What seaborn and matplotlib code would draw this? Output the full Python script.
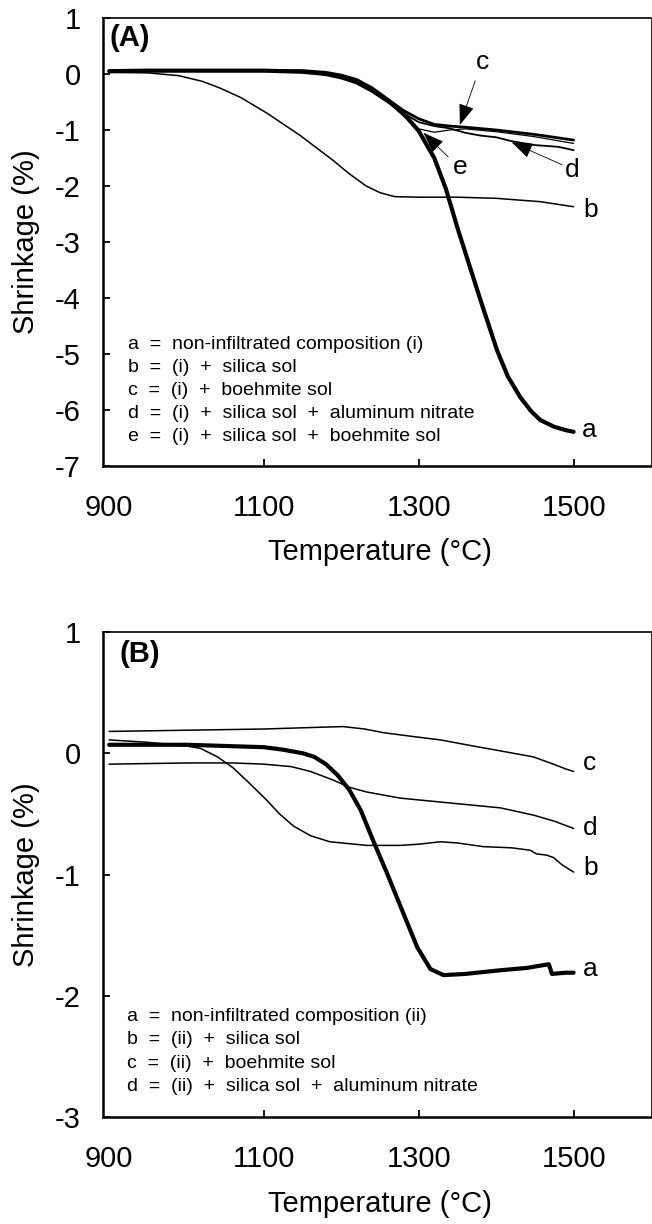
import matplotlib
matplotlib.use("Agg")
import matplotlib.pyplot as plt
import seaborn as sns
import pandas as pd

# ---------------- data ----------------
# Panel A
A_a_T = [900, 950, 1000, 1050, 1100, 1150, 1180, 1200, 1220, 1240, 1264, 1280, 1300, 1320, 1335, 1350,
         1365, 1380, 1401, 1415, 1431, 1445, 1457, 1475, 1490, 1500]
A_a_v = [0.05, 0.06, 0.06, 0.06, 0.06, 0.04, 0.0, -0.06, -0.15, -0.3, -0.52, -0.7, -1.02, -1.5, -2.05, -2.75,
         -3.4, -4.05, -4.93, -5.4, -5.77, -6.02, -6.18, -6.3, -6.36, -6.39]

A_b_T = [900, 950, 990, 1020, 1043, 1070, 1104, 1147, 1189, 1210, 1232, 1250, 1269, 1300, 1350, 1400, 1457, 1500]
A_b_v = [0.03, 0.02, -0.03, -0.13, -0.25, -0.42, -0.7, -1.1, -1.54, -1.78, -2.0, -2.12, -2.19, -2.2, -2.2, -2.22,
         -2.28, -2.37]

A_c_T = [900, 1000, 1100, 1150, 1180, 1200, 1220, 1240, 1260, 1280, 1300, 1320, 1340, 1360, 1400, 1450, 1500]
A_c_v = [0.06, 0.06, 0.06, 0.06, 0.03, -0.02, -0.1, -0.25, -0.45, -0.65, -0.8, -0.9, -0.93, -0.95, -1.0, -1.08,
         -1.18]

A_d_T = [900, 1000, 1100, 1150, 1180, 1200, 1220, 1240, 1260, 1280, 1300, 1320, 1340, 1360, 1380, 1400, 1420,
         1450, 1480, 1500]
A_d_v = [0.05, 0.05, 0.05, 0.05, 0.02, -0.03, -0.11, -0.27, -0.48, -0.7, -0.86, -0.93, -0.97, -1.05, -1.1, -1.13,
         -1.2, -1.27, -1.3, -1.36]

A_e_T = [900, 1000, 1100, 1150, 1180, 1200, 1220, 1240, 1260, 1280, 1300, 1320, 1340, 1360, 1400, 1450, 1500]
A_e_v = [0.05, 0.05, 0.05, 0.05, 0.02, -0.03, -0.12, -0.28, -0.5, -0.75, -0.98, -1.04, -1.0, -0.98, -1.03, -1.12,
         -1.24]

# Panel B
B_a_T = [900, 950, 1000, 1050, 1100, 1124, 1150, 1165, 1180, 1195, 1210, 1225, 1241, 1259, 1280, 1298, 1315,
         1332, 1360, 1405, 1440, 1468, 1472, 1490, 1500]
B_a_v = [0.07, 0.07, 0.07, 0.06, 0.05, 0.03, 0.0, -0.03, -0.09, -0.18, -0.3, -0.47, -0.72, -0.99, -1.32, -1.6,
         -1.78, -1.83, -1.82, -1.79, -1.77, -1.74, -1.82, -1.81, -1.81]

B_b_T = [900, 950, 1000, 1018, 1040, 1060, 1080, 1104, 1120, 1138, 1160, 1185, 1233, 1276, 1300, 1328, 1350,
         1383, 1420, 1444, 1452, 1465, 1474, 1485, 1500]
B_b_v = [0.11, 0.09, 0.06, 0.04, -0.03, -0.12, -0.24, -0.39, -0.5, -0.6, -0.68, -0.73, -0.76, -0.76, -0.75, -0.73,
         -0.74, -0.77, -0.78, -0.8, -0.83, -0.84, -0.86, -0.92, -0.98]

B_c_T = [900, 1000, 1100, 1150, 1202, 1230, 1254, 1290, 1328, 1370, 1405, 1448, 1474, 1490, 1500]
B_c_v = [0.18, 0.19, 0.2, 0.21, 0.22, 0.2, 0.17, 0.14, 0.11, 0.06, 0.02, -0.03, -0.09, -0.13, -0.15]

B_d_T = [900, 1000, 1060, 1100, 1135, 1160, 1189, 1210, 1233, 1276, 1340, 1405, 1448, 1475, 1500]
B_d_v = [-0.09, -0.08, -0.08, -0.09, -0.11, -0.15, -0.22, -0.28, -0.32, -0.37, -0.41, -0.45, -0.51, -0.56, -0.62]

x_ticks = [900, 1100, 1300, 1500]
A_y_ticks = [1, 0, -1, -2, -3, -4, -5, -6, -7]
B_y_ticks = [1, 0, -1, -2, -3]

A_legend = ["a  =  non-infiltrated composition (i)",
            "b  =  (i)  +  silica sol",
            "c  =  (i)  +  boehmite sol",
            "d  =  (i)  +  silica sol  +  aluminum nitrate",
            "e  =  (i)  +  silica sol  +  boehmite sol"]
B_legend = ["a  =  non-infiltrated composition (ii)",
            "b  =  (ii)  +  silica sol",
            "c  =  (ii)  +  boehmite sol",
            "d  =  (ii)  +  silica sol  +  aluminum nitrate"]

# ---------------- style ----------------
sns.set_style("ticks")
plt.rcParams['font.family'] = ['Liberation Sans', 'DejaVu Sans']
plt.rcParams['axes.edgecolor'] = 'black'
plt.rcParams['axes.labelcolor'] = 'black'
plt.rcParams['text.color'] = 'black'
plt.rcParams['xtick.color'] = 'black'
plt.rcParams['ytick.color'] = 'black'
plt.rcParams['xtick.labelcolor'] = 'black'
plt.rcParams['ytick.labelcolor'] = 'black'

W, H = 652, 1224
fig = plt.figure(figsize=(W / 100, H / 100), dpi=100)


def frac_box(left_px, right_px, top_px, bottom_px):
    return [left_px / W, 1 - bottom_px / H, (right_px - left_px) / W, (bottom_px - top_px) / H]


axA = fig.add_axes(frac_box(103, 651, 18, 466))
axB = fig.add_axes(frac_box(103, 651, 632, 1117))


def draw(ax, T, v, lw):
    df = pd.DataFrame({"T": T, "v": v})
    sns.lineplot(data=df, x="T", y="v", ax=ax, color="black", lw=lw, sort=False, estimator=None,
                 solid_joinstyle="round", solid_capstyle="round")


# Panel A curves
draw(axA, A_b_T, A_b_v, 1.1)
draw(axA, A_e_T, A_e_v, 0.9)
draw(axA, A_d_T, A_d_v, 1.3)
draw(axA, A_c_T, A_c_v, 2.0)
draw(axA, A_a_T, A_a_v, 3.0)

# Panel B curves
draw(axB, B_c_T, B_c_v, 1.1)
draw(axB, B_d_T, B_d_v, 1.1)
draw(axB, B_b_T, B_b_v, 1.1)
draw(axB, B_a_T, B_a_v, 3.0)


def style_axes(ax, ylim, yticks, tag, tag_x, xlab_y, legend, leg_x, leg_y0, leg_dy):
    ax.set_xlim(892, 1600)
    ax.set_ylim(*ylim)
    ax.set_xticks(x_ticks)
    ax.set_xticklabels([str(t) for t in x_ticks])
    ax.set_yticks(yticks)
    ax.set_yticklabels([str(t) for t in yticks])
    ax.tick_params(axis='both', direction='in', length=5, width=1.3, labelsize=21,
                   colors='black')
    ax.tick_params(axis='x', pad=20)
    ax.tick_params(axis='y', pad=16)
    ax.xaxis.get_major_ticks()[0].tick1line.set_visible(False)
    for s in ['left', 'bottom']:
        ax.spines[s].set_linewidth(1.8)
    ax.spines['top'].set_linewidth(1.2)
    ax.spines['right'].set_linewidth(0.6)
    ax.set_xlabel("Temperature (°C)", fontsize=21, color='black')
    ax.set_ylabel("Shrinkage (%)", fontsize=21, color='black')
    ax.xaxis.set_label_coords(0.505, xlab_y)
    ax.yaxis.set_label_coords(-0.115, 0.5)
    ax.text(tag_x, 0.955, tag, transform=ax.transAxes, fontsize=21, fontweight='bold',
            ha='left', va='center')
    for i, line in enumerate(legend):
        ax.text(leg_x, leg_y0 - i * leg_dy, line, transform=ax.transAxes, fontsize=14,
                ha='left', va='center')


style_axes(axA, (-7, 1), A_y_ticks, "(A)", 0.012, -0.161, A_legend, 0.045, 0.272, 0.0515)
style_axes(axB, (-3, 1), B_y_ticks, "(B)", 0.030, -0.150, B_legend, 0.044, 0.208, 0.0485)

# curve labels
lab_fs = 19
axA.text(1511, -6.36, "a", fontsize=lab_fs, ha='left', va='center')
axA.text(1513, -2.42, "b", fontsize=lab_fs, ha='left', va='center')
axA.text(1382, 0.21, "c", fontsize=lab_fs, ha='center', va='center')
axA.text(1498, -1.71, "d", fontsize=lab_fs, ha='center', va='center')
axA.text(1353, -1.66, "e", fontsize=lab_fs, ha='center', va='center')

arrow_kw = dict(arrowstyle='-|>,head_length=0.6,head_width=0.22', color='black', lw=0.6,
                mutation_scale=22, shrinkA=0, shrinkB=0)
axA.annotate("", xy=(1353, -0.91), xytext=(1373, -0.12), arrowprops=arrow_kw)
axA.annotate("", xy=(1306, -1.05), xytext=(1338, -1.48), arrowprops=arrow_kw)
axA.annotate("", xy=(1420, -1.22), xytext=(1485, -1.62), arrowprops=arrow_kw)

axB.text(1512, -1.78, "a", fontsize=lab_fs, ha='left', va='center')
axB.text(1512, -0.95, "b", fontsize=lab_fs, ha='left', va='center')
axB.text(1512, -0.08, "c", fontsize=lab_fs, ha='left', va='center')
axB.text(1512, -0.62, "d", fontsize=lab_fs, ha='left', va='center')

fig.savefig("out.png", dpi=100)
